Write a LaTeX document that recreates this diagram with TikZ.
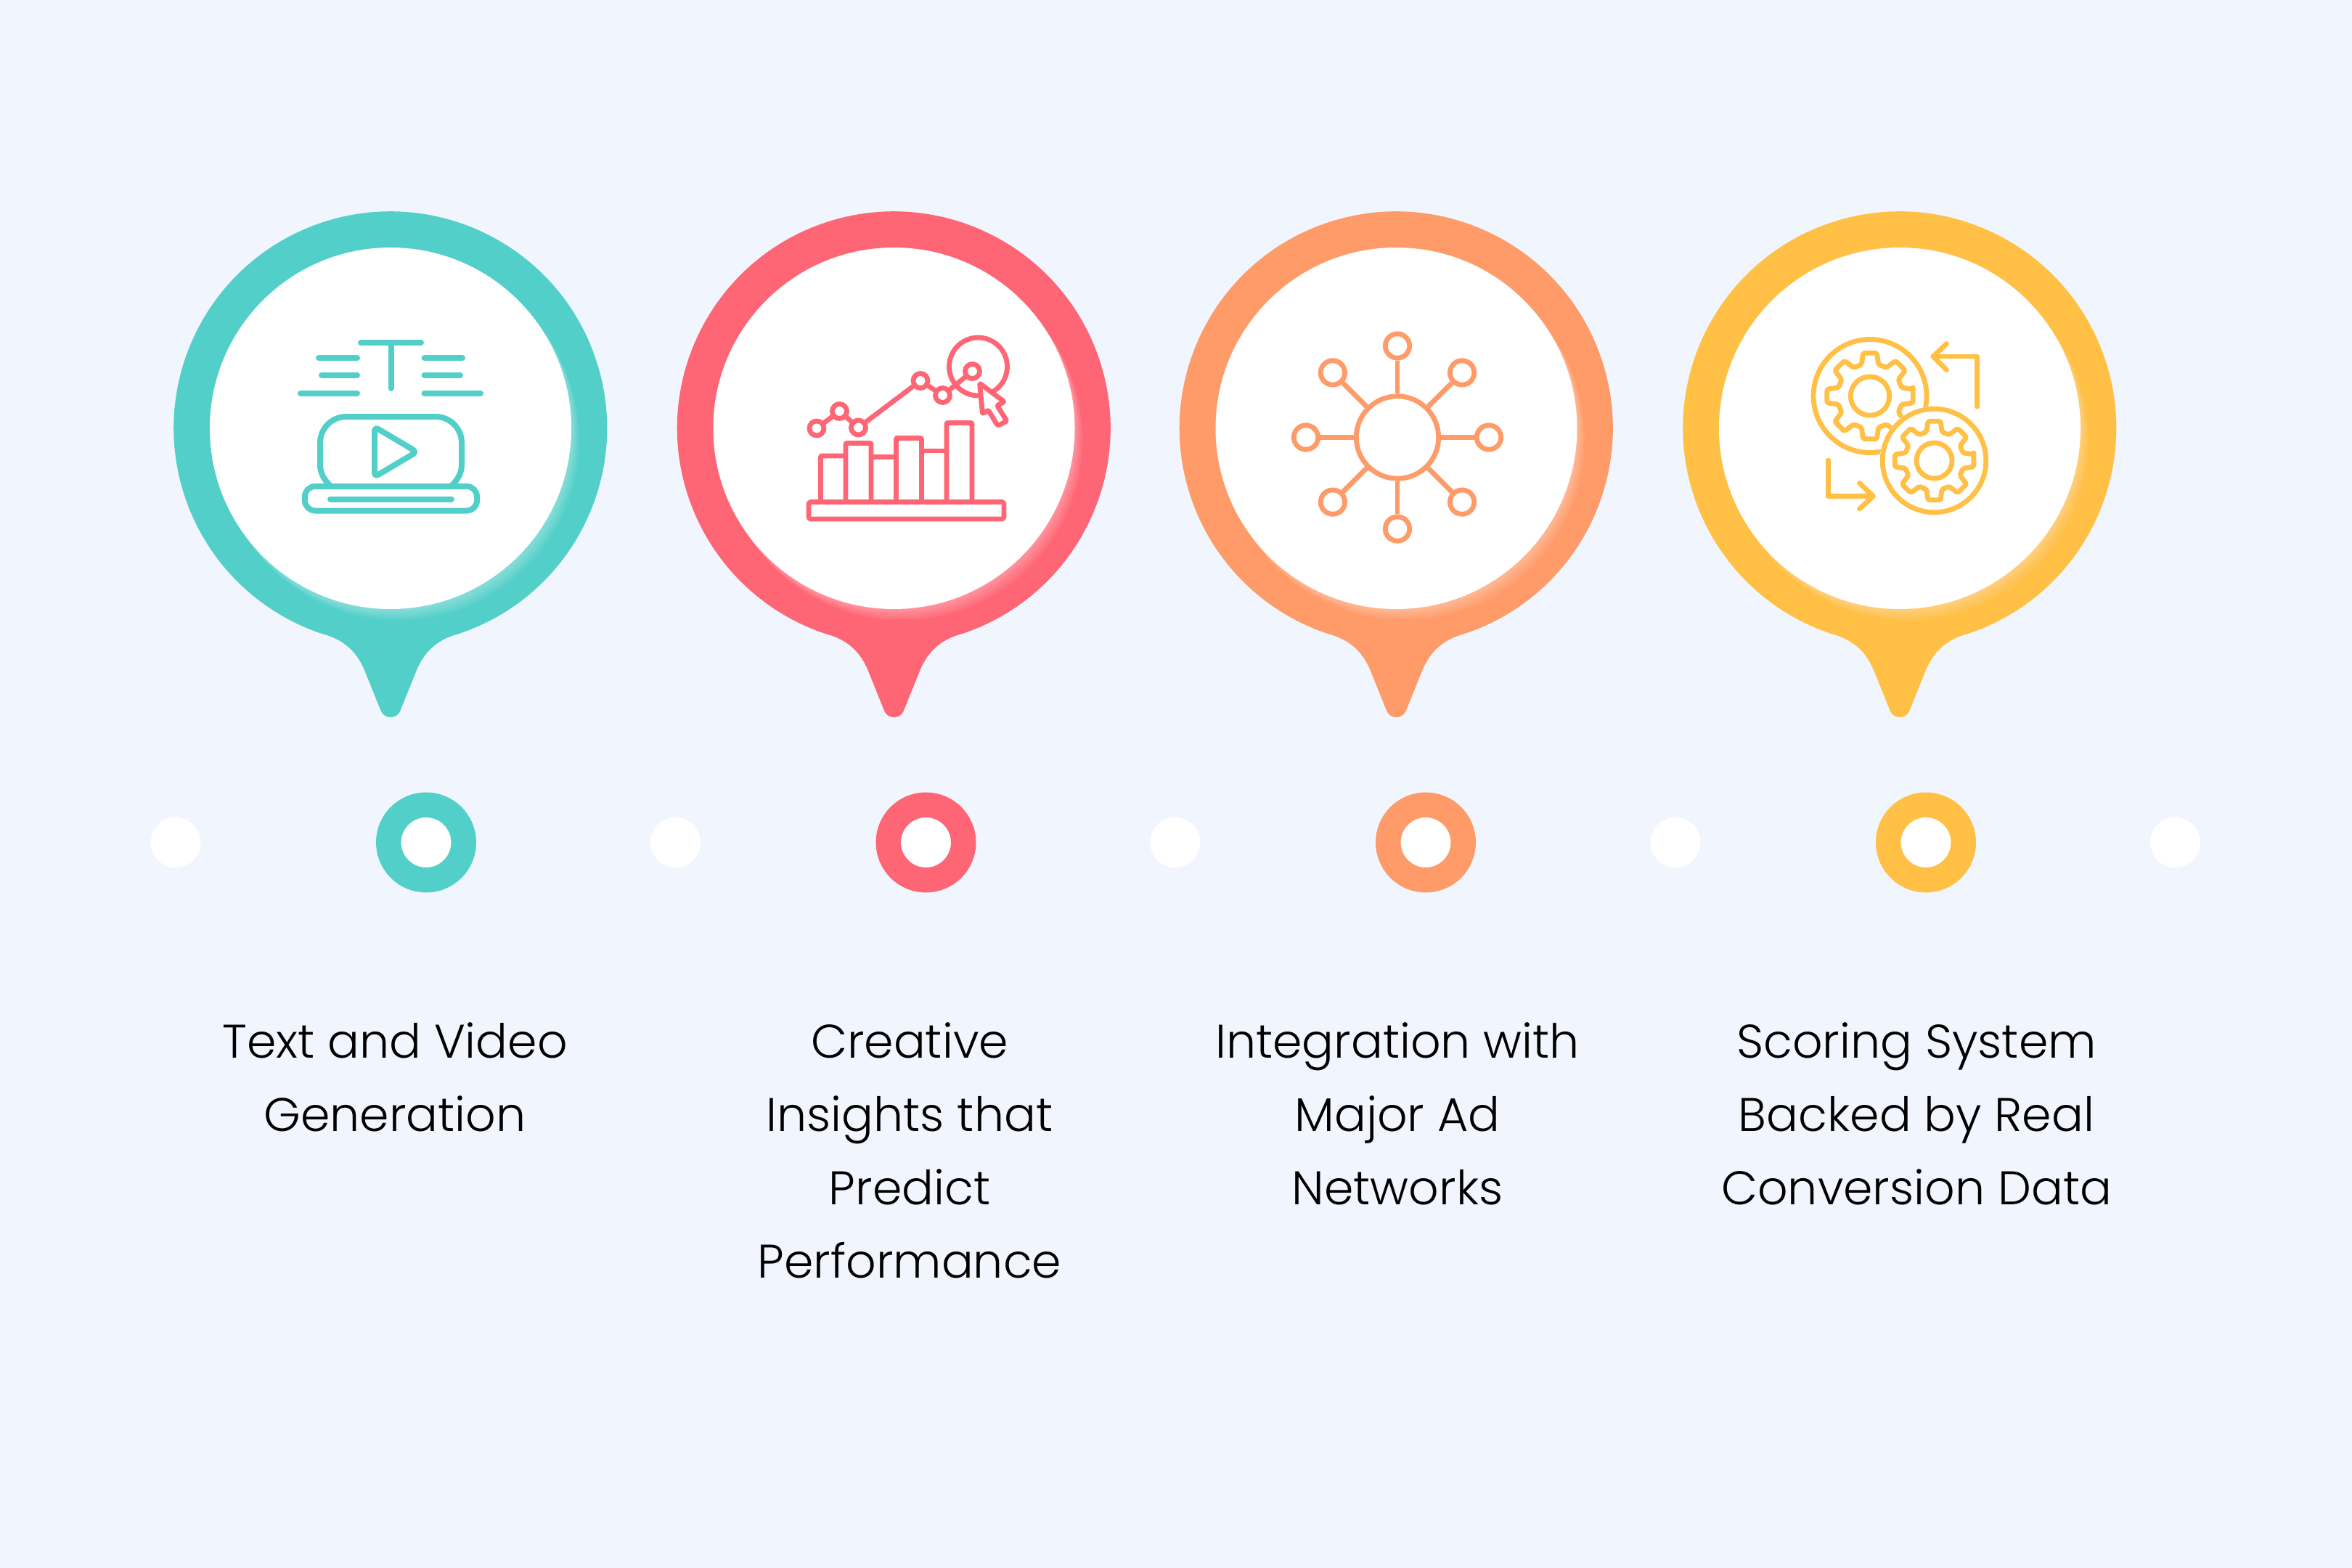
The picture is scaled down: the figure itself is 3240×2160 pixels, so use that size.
\documentclass[tikz,border=0pt]{standalone}
\usepackage{fontspec}
\setmainfont{Poppins Light}
\usetikzlibrary{calc}
\definecolor{pagebg}{HTML}{F1F6FE}
\definecolor{tealc}{HTML}{53CFCA}
\definecolor{redc}{HTML}{FF6675}
\definecolor{orangec}{HTML}{FF9B68}
\definecolor{yellowc}{HTML}{FFC045}
\tikzset{
  caption/.style={anchor=north, align=center, text=black, font=\fontsize{65}{101}\selectfont},
  whitedot/.style={circle, fill=white, minimum size=69pt, inner sep=0pt},
  ring/.style={circle, fill=white, draw=#1, line width=34.5pt, minimum size=103.5pt, inner sep=0pt},
  iconline/.style={draw=#1, line width=6.8pt, line cap=round, line join=round},
  hollow/.style={circle, draw=#1, line width=6.8pt, fill=white, inner sep=0pt, minimum size=20pt},
}
%% pin: round head with a tail, white face with a soft glow on its lower right
\newcommand{\pinbody}[2]{
  \begin{scope}[shift={(#1,590)}]
    \fill[#2] (94,283) arc[start angle=71.6, end angle=-251.6, radius=298.5]
      .. controls (-60,292) and (-45,312) .. (-36,333) -- (-13,390)
      .. controls (-10,396) and (-5,398) .. (0,398)
      .. controls (5,398) and (10,396) .. (13,390) -- (36,333)
      .. controls (45,312) and (60,292) .. (94,283) -- cycle;
    \foreach \k in {1,...,14}
      \fill[white, opacity=.028] (0.8*\k,1.15*\k) circle (249);
    \fill[white] (0,0) circle (249);
  \end{scope}
}
%% gear with eight teeth: centre, tip radius, root radius, hub radius
\newcommand{\gearwheel}[5]{
  \begin{scope}[shift={(#1,#2)}]
    \draw[iconline=yellowc, rounded corners=2pt] (-9:#3)
      \foreach \a in {0,45,...,315} {
        -- ({\a-9}:#3) -- ({\a+9}:#3) -- ({\a+15}:#4) -- ({\a+30}:#4)
      } -- cycle;
    \draw[iconline=yellowc] (0,0) circle (#5);
  \end{scope}
}
\begin{document}
\begin{tikzpicture}[x=1pt,y=-1pt]
  \useasboundingbox (0,0) rectangle (3240,2160);
  \fill[pagebg] (0,0) rectangle (3240,2160);

  \pinbody{538}{tealc}
  \pinbody{1231.5}{redc}
  \pinbody{1923.5}{orangec}
  \pinbody{2617}{yellowc}

  %% text and video icon
  \draw[iconline=tealc, line width=8pt] (497,472) -- (580,472) (538.5,472) -- (538.5,535);
  \draw[iconline=tealc, line width=8pt] (439,493) -- (492,493) (443,517) -- (492,517) (414,541.5) -- (492,541.5);
  \draw[iconline=tealc, line width=8pt] (584.5,493) -- (637,493) (584.5,517) -- (634,517) (584.5,541.5) -- (662,541.5);
  \draw[iconline=tealc, line width=8pt] (456,670) .. controls (447,662) and (441,652) .. (441,640)
    -- (441,610) arc[start angle=180, end angle=270, radius=36] -- (600,574)
    arc[start angle=270, end angle=360, radius=36] -- (636,640)
    .. controls (636,652) and (630,662) .. (621,670);
  \draw[iconline=tealc, line width=8pt, rounded corners=6pt] (516,588) -- (574,622.5) -- (516,657) -- cycle;
  \draw[iconline=tealc, line width=8pt, rounded corners=14pt] (420,670) rectangle (657,703.5);
  \draw[iconline=tealc, line width=8pt] (455,687.5) -- (622,687.5);

  %% chart icon
  \draw[iconline=redc, rounded corners=3pt] (1114,691.5) rectangle (1383,715);
  \draw[iconline=redc, line cap=butt, rounded corners=1pt] (1130.5,691.5) |- (1165,628) -- (1165,691.5);
  \draw[iconline=redc, line cap=butt, rounded corners=1pt] (1165,628) |- (1200,610.5) -- (1200,691.5);
  \draw[iconline=redc, line cap=butt] (1200,629.5) -- (1234.5,629.5);
  \draw[iconline=redc, line cap=butt, rounded corners=1pt] (1234.5,691.5) |- (1269.5,603.5) -- (1269.5,691.5);
  \draw[iconline=redc, line cap=butt] (1269.5,621) -- (1304,621);
  \draw[iconline=redc, line cap=butt, rounded corners=1pt] (1304,691.5) |- (1339,582.5) -- (1339,691.5);
  \draw[iconline=redc] (1347.5,505)+(58:40) arc[start angle=58, end angle=-268, radius=40];
  \node[hollow=redc] (pt1) at (1125,590) {};
  \node[hollow=redc] (pt2) at (1156.5,566.5) {};
  \node[hollow=redc] (pt3) at (1182.5,589) {};
  \node[hollow=redc] (pt4) at (1268,524.5) {};
  \node[hollow=redc] (pt5) at (1298.5,544.5) {};
  \node[hollow=redc] (pt6) at (1339.5,511.5) {};
  \draw[iconline=redc] (pt1) -- (pt2);
  \draw[iconline=redc] (pt2) -- (pt3);
  \draw[iconline=redc] (pt3) -- (pt4);
  \draw[iconline=redc] (pt4) -- (pt5);
  \draw[iconline=redc] (pt5) -- (pt6);
  \draw[iconline=redc, fill=white, rounded corners=2pt] (1349.5,528) -- (1383.5,553.5) -- (1373.5,558.5)
    -- (1387,580) -- (1374.5,586.5) -- (1361.5,565) -- (1353.5,570) -- cycle;

  %% network icon
  \node[hollow=orangec, minimum size=113.4pt] (hub) at (1925,602.5) {};
  \foreach \a in {0,45,...,315} {
    \node[hollow=orangec, minimum size=33.4pt] (sat\a) at ($(hub)+(\a:126)$) {};
    \draw[iconline=orangec, line cap=butt] (hub) -- (sat\a);
  }

  %% gears icon
  \gearwheel{2576}{545.5}{60}{45}{26.7}
  \draw[iconline=yellowc] (2576,545.5) circle (78);
  \fill[white] (2664.5,634.5) circle (75);
  \draw[iconline=yellowc] (2664.5,634.5) circle (71.3);
  \gearwheel{2664.5}{634.5}{55}{41}{24.5}
  \draw[iconline=yellowc] (2723.5,560) -- (2723.5,491) -- (2663,491);
  \draw[iconline=yellowc] (2681.5,473.5) -- (2663,491) -- (2681.5,509.5);
  \draw[iconline=yellowc] (2518.5,634) -- (2518.5,683.5) -- (2580,683.5);
  \draw[iconline=yellowc] (2561.5,665.5) -- (2580.5,683.5) -- (2561.5,701);

  %% timeline dots
  \node[whitedot] (dot1) at (242,1160.5) {};
  \node[ring=tealc] (ring1) at (587,1160.5) {};
  \node[whitedot] (dot2) at (930.5,1160.5) {};
  \node[ring=redc] (ring2) at (1275.5,1160.5) {};
  \node[whitedot] (dot3) at (1619,1160.5) {};
  \node[ring=orangec] (ring3) at (1964,1160.5) {};
  \node[whitedot] (dot4) at (2308,1160.5) {};
  \node[ring=yellowc] (ring4) at (2653,1160.5) {};
  \node[whitedot] (dot5) at (2996.5,1160.5) {};

  %% captions
  \node[caption] (label1) at (544,1405) {Text and Video\\Generation};
  \node[caption] (label2) at (1253,1405) {Creative\\Insights that\\Predict\\Performance};
  \node[caption] (label3) at (1925,1405) {Integration with\\Major Ad\\Networks};
  \node[caption] (label4) at (2640,1405) {Scoring System\\Backed by Real\\Conversion Data};
\end{tikzpicture}
\end{document}
